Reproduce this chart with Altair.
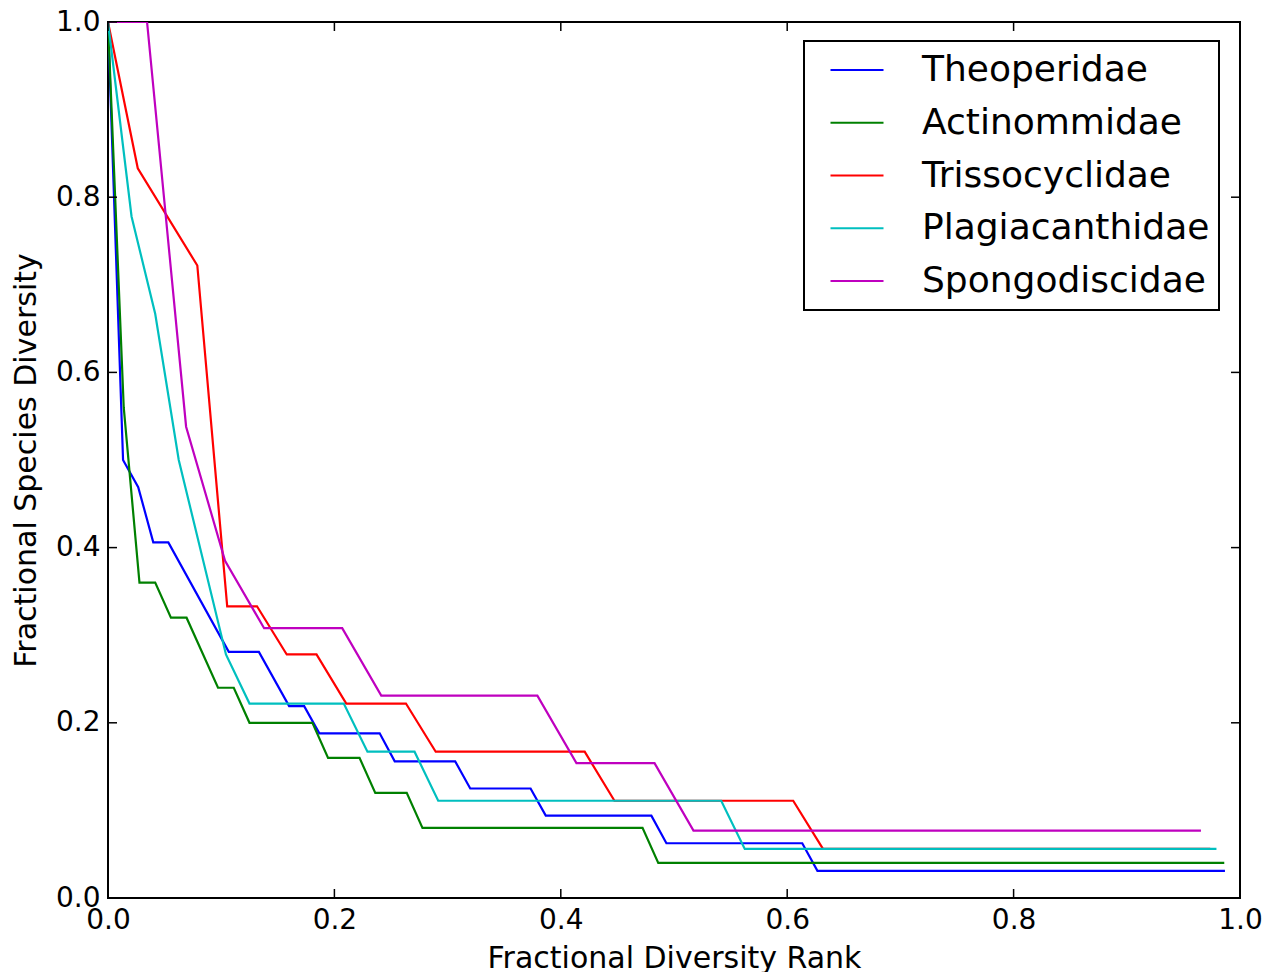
import altair as alt
import pandas as pd

families = ["Theoperidae", "Actinommidae", "Trissocyclidae", "Plagiacanthidae", "Spongodiscidae"]
colors = ["#0000ff", "#008000", "#ff0000", "#00bfbf", "#bf00bf"]

theo_x = [0.0, 0.0133, 0.0267, 0.04, 0.0533, 0.1067, 0.1333, 0.16, 0.1733, 0.1867, 0.24,
          0.2533, 0.3067, 0.32, 0.3733, 0.3867, 0.48, 0.4933, 0.6133, 0.6267, 0.9867]
theo_y = [1.0, 0.5, 0.469, 0.406, 0.406, 0.281, 0.281, 0.219, 0.219, 0.188, 0.188,
          0.156, 0.156, 0.125, 0.125, 0.094, 0.094, 0.0625, 0.0625, 0.031, 0.031]

acti_x = [0.0, 0.0139, 0.0278, 0.0417, 0.0556, 0.0694, 0.0972, 0.1111, 0.125, 0.1806,
          0.1944, 0.2222, 0.2361, 0.2639, 0.2778, 0.4722, 0.4861, 0.9861]
acti_y = [1.0, 0.56, 0.36, 0.36, 0.32, 0.32, 0.24, 0.24, 0.20, 0.20,
          0.16, 0.16, 0.12, 0.12, 0.08, 0.08, 0.04, 0.04]

tris_x = [0.0, 0.0263, 0.0789, 0.1053, 0.1316, 0.1579, 0.1842, 0.2105, 0.2632, 0.2895,
          0.4211, 0.4474, 0.6053, 0.6316, 0.9737]
tris_y = [1.0, 0.833, 0.722, 0.333, 0.333, 0.278, 0.278, 0.222, 0.222, 0.167,
          0.167, 0.111, 0.111, 0.056, 0.056]

plag_x = [0.0, 0.0208, 0.0417, 0.0625, 0.1042, 0.125, 0.2083, 0.2292, 0.2708, 0.2917,
          0.5417, 0.5625, 0.9792]
plag_y = [1.0, 0.778, 0.667, 0.5, 0.278, 0.222, 0.222, 0.167, 0.167, 0.111,
          0.111, 0.056, 0.056]

spon_x = [0.0, 0.0345, 0.069, 0.1034, 0.1379, 0.2069, 0.2414, 0.3793, 0.4138, 0.4828,
          0.5172, 0.9655]
spon_y = [1.0, 1.0, 0.538, 0.385, 0.308, 0.308, 0.231, 0.231, 0.154, 0.154,
          0.077, 0.077]

tick_values = [0.0, 0.2, 0.4, 0.6, 0.8, 1.0]

series = [(theo_x, theo_y), (acti_x, acti_y), (tris_x, tris_y), (plag_x, plag_y), (spon_x, spon_y)]
rows = []
for fam, (xs, ys) in zip(families, series):
    for i, (xv, yv) in enumerate(zip(xs, ys)):
        rows.append({"family": fam, "rank": xv, "div": yv, "idx": i})
df = pd.DataFrame(rows)

W, H = 1132, 876
FONT = "DejaVu Sans"

xscale = alt.Scale(domain=[0, 1], nice=False, zero=False)
yscale = alt.Scale(domain=[0, 1], nice=False, zero=False)
cscale = alt.Scale(domain=families, range=colors)

xaxis = alt.Axis(values=tick_values, format=".1f", title="Fractional Diversity Rank",
                 labelPadding=8, titlePadding=9, labelFlush=False, labelOverlap=False)
yaxis = alt.Axis(values=tick_values, format=".1f", title="Fractional Species Diversity",
                 labelPadding=8, titlePadding=14, labelFlush=False, labelOverlap=False)

legend = alt.Legend(orient="none", legendX=696, legendY=19,
                    symbolType="stroke", symbolSize=2809,
                    symbolStrokeWidth=2.2, symbolOffset=16,
                    labelOffset=37, clipHeight=40, rowPadding=12.75,
                    padding=9, strokeColor="black", fillColor="white",
                    labelFontSize=36, labelFont=FONT, labelColor="black",
                    labelLimit=500)

layers = []
for fam in families:
    layers.append(
        alt.Chart(df).transform_filter(alt.datum.family == fam)
        .mark_line(strokeWidth=2.2, clip=True).encode(
            x=alt.X("rank:Q", scale=xscale, axis=xaxis),
            y=alt.Y("div:Q", scale=yscale, axis=yaxis),
            color=alt.Color("family:N", scale=cscale, title=None, legend=legend),
            order=alt.Order("idx:Q"),
        )
    )

ticks_df = pd.DataFrame({"t": tick_values})
tick_len = 9
xt_bottom = alt.Chart(ticks_df).mark_rule(color="black", strokeWidth=1.5).encode(
    x=alt.X("t:Q", scale=xscale, axis=xaxis), y=alt.value(H), y2=alt.value(H - tick_len))
xt_top = alt.Chart(ticks_df).mark_rule(color="black", strokeWidth=1.5).encode(
    x=alt.X("t:Q", scale=xscale, axis=xaxis), y=alt.value(0), y2=alt.value(tick_len))
yt_left = alt.Chart(ticks_df).mark_rule(color="black", strokeWidth=1.5).encode(
    y=alt.Y("t:Q", scale=yscale, axis=yaxis), x=alt.value(0), x2=alt.value(tick_len))
yt_right = alt.Chart(ticks_df).mark_rule(color="black", strokeWidth=1.5).encode(
    y=alt.Y("t:Q", scale=yscale, axis=yaxis), x=alt.value(W), x2=alt.value(W - tick_len))

chart = alt.layer(*layers, xt_bottom, xt_top, yt_left, yt_right).properties(
    width=W, height=H,
    autosize=alt.AutoSizeParams(type="none"),
    padding={"left": 100, "top": 14, "right": 28, "bottom": 80},
).configure_view(
    stroke="black", strokeWidth=2
).configure_axis(
    grid=False, ticks=False, domain=False,
    labelFont=FONT, labelFontSize=28, labelColor="black",
    titleFont=FONT, titleFontSize=30, titleColor="black", titleFontWeight="normal",
).configure_legend(
    strokeWidth=2
)

chart.save("out.html", embed_options={"renderer": "svg", "actions": False})
